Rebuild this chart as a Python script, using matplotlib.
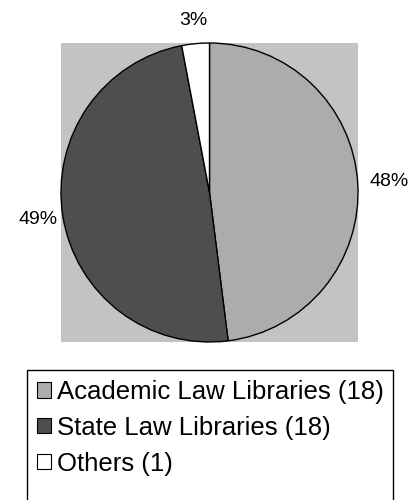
import numpy as np
import matplotlib.pyplot as plt
from matplotlib.patches import Rectangle, Patch

plt.rcParams['font.family'] = ['Liberation Sans', 'DejaVu Sans']

labels = ['Academic Law Libraries (18)', 'State Law Libraries (18)', 'Others (1)']
shares = [48, 49, 3]
colors = ['#acacac', '#4e4e4e', '#ffffff']

fig = plt.figure(figsize=(4.12, 5.0), dpi=100)
ax = fig.add_axes([0.148, 0.316, 0.721, 0.598])

wedges, _ = ax.pie(shares, colors=colors, startangle=90, counterclock=False, radius=1.0,
                   wedgeprops=dict(edgecolor='black', linewidth=1.0))
# percentage labels outside each wedge
dist = [1.21, 1.17, 1.155]
for w, v, d in zip(wedges, shares, dist):
    th = np.deg2rad((w.theta1 + w.theta2) / 2)
    ax.text(d * np.cos(th), d * np.sin(th), f'{v}%', ha='center', va='center',
            fontsize=14)
ax.set_xlim(-1.0, 1.0)
ax.set_ylim(-1.0, 1.0)
ax.set_aspect('auto')
ax.set_frame_on(True)
ax.set_facecolor('#c3c3c3')
ax.set_xticks([])
ax.set_yticks([])
for s in ax.spines.values():
    s.set_visible(False)

# legend frame runs past the bottom of the figure
fig.patches.append(Rectangle((27 / 412, -0.05), 366 / 412, 1.05 - 370 / 500,
                             transform=fig.transFigure, fill=False,
                             edgecolor='black', linewidth=1.0))
handles = [Patch(facecolor=c, edgecolor='black', linewidth=0.8) for c in colors]
fig.legend(handles, labels, loc='upper left', bbox_to_anchor=(37 / 412, 0.24),
           frameon=False, fontsize=18.5, handlelength=0.55, handleheight=0.55,
           handletextpad=0.23, labelspacing=0.46, borderpad=0.0, borderaxespad=0)

fig.savefig('out.png', dpi=100)
